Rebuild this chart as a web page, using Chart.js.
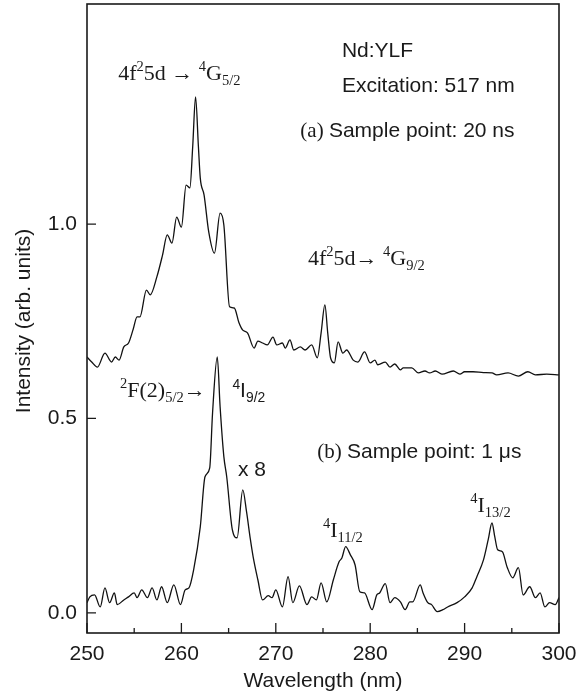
<!DOCTYPE html>
<html>
<head>
<meta charset="utf-8">
<script src="https://cdn.jsdelivr.net/npm/chart.js@4.4.1/dist/chart.umd.min.js"></script>
<style>
html,body{margin:0;padding:0;background:#fff;}
#c{display:block;}
</style>
</head>
<body>
<canvas id="c" width="587" height="694"></canvas>
<script>
// ---- Data ----
const wavelengthA = [250.0,250.5,251.1,251.9,252.6,253.0,253.4,253.9,254.4,254.9,255.3,255.6,256.3,256.7,257.4,258.0,258.5,259.0,259.5,260.0,260.5,260.9,261.2,261.5,261.8,262.0,262.4,262.9,263.5,264.1,264.5,265.1,265.6,266.1,266.5,267.0,267.7,268.1,268.6,269.1,269.7,270.1,270.7,271.0,271.5,271.9,272.6,273.1,273.8,274.4,274.8,275.2,275.5,275.8,276.2,276.6,277.1,277.5,278.2,278.7,279.4,280.0,280.5,280.8,281.6,282.1,282.6,283.2,283.5,284.4,285.1,285.8,286.3,286.9,287.6,288.8,289.5,290.0,290.9,292.0,292.9,293.4,294.6,295.7,296.7,297.5,298.7,300.0];
const intensityA = [0.658,0.645,0.632,0.668,0.645,0.658,0.650,0.684,0.694,0.730,0.761,0.761,0.830,0.818,0.864,0.920,0.972,0.951,1.018,0.992,1.100,1.093,1.200,1.327,1.200,1.118,1.075,0.979,0.925,1.028,0.997,0.787,0.784,0.746,0.727,0.720,0.681,0.699,0.694,0.689,0.709,0.689,0.694,0.681,0.702,0.676,0.684,0.676,0.689,0.656,0.720,0.792,0.720,0.656,0.643,0.697,0.668,0.676,0.650,0.645,0.671,0.643,0.650,0.638,0.645,0.632,0.640,0.625,0.630,0.630,0.617,0.622,0.617,0.622,0.614,0.622,0.614,0.620,0.620,0.618,0.617,0.612,0.617,0.609,0.620,0.612,0.614,0.612];

const wavelengthB = [250.0,250.3,250.8,251.4,251.9,252.4,252.9,253.2,253.9,254.4,255.0,255.3,255.8,256.4,256.9,257.4,257.9,258.5,259.2,259.9,260.4,260.8,261.3,262.0,262.5,263.0,263.3,263.8,264.1,264.5,264.8,265.4,265.9,266.5,266.9,267.3,267.6,268.1,268.6,269.2,269.6,270.0,270.7,271.3,271.8,272.5,273.3,273.8,274.3,274.8,275.4,276.1,276.7,277.0,277.4,277.9,278.4,278.9,279.4,280.2,280.7,281.0,281.6,282.1,282.6,283.2,283.7,284.2,284.5,285.3,285.6,286.1,286.5,287.1,287.7,288.2,289.2,290.0,290.8,291.3,292.0,292.5,292.9,293.2,293.5,294.0,294.5,295.1,295.7,296.2,296.9,297.5,298.0,298.5,299.0,299.6,300.0];
const intensityB = [0.026,0.041,0.046,0.015,0.064,0.026,0.051,0.021,0.033,0.041,0.051,0.039,0.059,0.039,0.064,0.033,0.067,0.026,0.072,0.021,0.059,0.064,0.111,0.221,0.350,0.373,0.514,0.658,0.530,0.401,0.350,0.213,0.193,0.316,0.260,0.190,0.144,0.085,0.033,0.044,0.039,0.059,0.015,0.093,0.026,0.069,0.021,0.041,0.033,0.077,0.028,0.085,0.131,0.141,0.170,0.149,0.123,0.054,0.051,0.008,0.046,0.051,0.075,0.026,0.039,0.028,0.008,0.028,0.028,0.072,0.051,0.026,0.021,0.003,0.008,0.015,0.026,0.041,0.064,0.093,0.136,0.188,0.231,0.195,0.162,0.157,0.118,0.090,0.116,0.046,0.067,0.039,0.051,0.015,0.026,0.021,0.039];

const xTickValues = [250,260,270,280,290,300];
const xMinorTickValues = [255,265,275,285,295];
const yTickValues = [0.0,0.5,1.0];
const xTitle = 'Wavelength (nm)';
const yTitle = 'Intensity (arb. units)';

// ---- Annotations (anchored in data units) ----
const SERIF = '"Liberation Serif","Times New Roman",serif';
const SANS = '"Liberation Sans",Arial,Helvetica,sans-serif';
const annotations = [
  {x:253.3, y:1.370, size:22, segs:[{t:'4f'},{t:'2',s:'sup'},{t:'5d \u2192 '},{t:'4',s:'sup'},{t:'G'},{t:'5/2',s:'sub'}]},
  {x:277.0, y:1.429, size:21, segs:[{t:'Nd:YLF',f:'sans'}]},
  {x:277.0, y:1.339, size:21, segs:[{t:'Excitation: 517 nm',f:'sans'}]},
  {x:272.6, y:1.224, size:21, segs:[{t:'(a) ',f:'serif'},{t:'Sample point: 20 ns',f:'sans'}]},
  {x:273.4, y:0.895, size:22, segs:[{t:'4f'},{t:'2',s:'sup'},{t:'5d\u2192 '},{t:'4',s:'sup'},{t:'G'},{t:'9/2',s:'sub'}]},
  {x:253.5, y:0.555, size:22, segs:[{t:'2',s:'sup'},{t:'F(2)'},{t:'5/2',s:'sub'},{t:'\u2192'}]},
  {x:265.4, y:0.555, size:21, segs:[{t:'4',s:'sup',f:'sans'},{t:'I',f:'sans'},{t:'9/2',s:'sub',f:'sans'}]},
  {x:266.0, y:0.352, size:21, segs:[{t:'x 8',f:'sans'}]},
  {x:274.4, y:0.398, size:21, segs:[{t:'(b) ',f:'serif'},{t:'Sample point: 1 \u03bcs',f:'sans'}]},
  {x:275.0, y:0.195, size:22, segs:[{t:'4',s:'sup'},{t:'I'},{t:'11/2',s:'sub'}]},
  {x:290.6, y:0.260, size:22, segs:[{t:'4',s:'sup'},{t:'I'},{t:'13/2',s:'sub'}]}
];

function toPoints(xs, ys){ return xs.map((x,i)=>({x:x, y:ys[i]})); }

function drawRich(ctx, x, y, segs, size){
  let cx = x;
  ctx.textBaseline = 'alphabetic';
  ctx.textAlign = 'left';
  for (const sg of segs){
    const fam = sg.f === 'sans' ? SANS : SERIF;
    let sz = size, dy = 0;
    if (sg.s === 'sup'){ sz = size*0.66; dy = -size*0.40; }
    else if (sg.s === 'sub'){ sz = size*0.66; dy = size*0.22; }
    ctx.font = sz + 'px ' + fam;
    ctx.fillText(sg.t, cx, y + dy);
    cx += ctx.measureText(sg.t).width;
  }
}

const decorPlugin = {
  id: 'decor',
  afterDraw(chart){
    const ctx = chart.ctx;
    const a = chart.chartArea;
    const xs = chart.scales.x, ys = chart.scales.y;
    ctx.save();
    ctx.strokeStyle = '#1a1a1a';
    ctx.lineWidth = 1.6;
    ctx.strokeRect(a.left, a.top, a.right - a.left, a.bottom - a.top);
    ctx.lineWidth = 1.3;
    ctx.beginPath();
    for (const v of xTickValues){
      const p = xs.getPixelForValue(v);
      ctx.moveTo(p, a.bottom); ctx.lineTo(p, a.bottom - 10);
    }
    for (const v of xMinorTickValues){
      const p = xs.getPixelForValue(v);
      ctx.moveTo(p, a.bottom); ctx.lineTo(p, a.bottom - 5);
    }
    for (const v of yTickValues){
      const p = ys.getPixelForValue(v);
      ctx.moveTo(a.left, p); ctx.lineTo(a.left + 9, p);
    }
    ctx.stroke();

    // axis titles
    ctx.fillStyle = '#1a1a1a';
    ctx.font = '21px ' + SANS;
    ctx.textAlign = 'center';
    ctx.textBaseline = 'middle';
    ctx.fillText(xTitle, (a.left + a.right)/2, 681);
    ctx.save();
    ctx.translate(24, 321);
    ctx.rotate(-Math.PI/2);
    ctx.fillText(yTitle, 0, 0);
    ctx.restore();

    // annotations
    for (const an of annotations){
      drawRich(ctx, xs.getPixelForValue(an.x), ys.getPixelForValue(an.y), an.segs, an.size);
    }
    ctx.restore();
  }
};

new Chart(document.getElementById('c'), {
  type: 'scatter',
  data: {
    datasets: [
      {data: toPoints(wavelengthA, intensityA), showLine:true, borderColor:'#111', borderWidth:1.3, pointRadius:0, cubicInterpolationMode:'monotone', fill:false},
      {data: toPoints(wavelengthB, intensityB), showLine:true, borderColor:'#111', borderWidth:1.3, pointRadius:0, cubicInterpolationMode:'monotone', fill:false}
    ]
  },
  options: {
    responsive: false,
    animation: false,
    devicePixelRatio: 1,
    layout: {padding: {left:0, right:28, top:4, bottom:0}},
    plugins: {legend:{display:false}, tooltip:{enabled:false}, title:{display:false}},
    scales: {
      x: {
        type:'linear', min:250, max:300,
        grid:{display:false, drawTicks:false},
        border:{display:false},
        afterBuildTicks: (s)=>{ s.ticks = xTickValues.map(v=>({value:v})); },
        afterFit: (s)=>{ s.height = 61; s.paddingLeft = 0; s.paddingRight = 0; },
        ticks:{padding:9, color:'#1a1a1a', font:{family:SANS, size:21}, callback:(v)=>String(v), maxRotation:0}
      },
      y: {
        type:'linear', min:-0.052, max:1.566,
        grid:{display:false, drawTicks:false},
        border:{display:false},
        afterBuildTicks: (s)=>{ s.ticks = yTickValues.map(v=>({value:v})); },
        afterFit: (s)=>{ s.width = 87; s.paddingTop = 0; s.paddingBottom = 0; },
        ticks:{padding:10, color:'#1a1a1a', font:{family:SANS, size:21}, callback:(v)=>Number(v).toFixed(1)}
      }
    }
  },
  plugins: [decorPlugin]
});
</script>
</body>
</html>
